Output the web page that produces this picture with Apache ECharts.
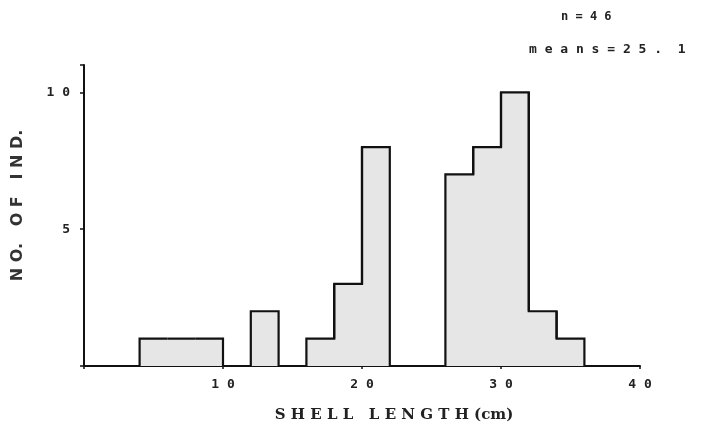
<!DOCTYPE html>
<html>
<head>
<meta charset="utf-8">
<script src="https://cdn.jsdelivr.net/npm/echarts@6/dist/echarts.min.js"></script>
<style type="text/css">
html, body{margin: 0; padding: 0; background: #fff;}
#chart{width: 702px; height: 431px;}
</style>
</head>
<body>
<div id="chart"></div>
<script>
// bins of shell length (cm) and number of individuals
var binStart = [4, 6, 8, 12, 16, 18, 20, 26, 28, 30, 32, 34];
var binEnd   = [6, 8, 10, 14, 18, 20, 22, 28, 30, 32, 34, 36];
var counts   = [1, 1, 1, 2, 1, 3, 8, 7, 8, 10, 2, 1];
var xTicks = [10, 20, 30, 40];
var yTicks = [5, 10];
var noteN = 'n=46';
var noteMean = 'means=25. 1';

var data = binStart.map(function (s, i) { return [s, binEnd[i], counts[i]]; });

// height of the neighbouring bin sharing an edge (0 if none)
function neighbour(edge, key) {
    var arr = key === 'end' ? binEnd : binStart;
    var i = arr.indexOf(edge);
    return i < 0 ? 0 : counts[i];
}

var spaced = function (v) { return String(v).split('').join(' '); };

var myChart = echarts.init(document.getElementById('chart'));
myChart.setOption({
    animation: false,
    grid: {left: 84, right: 62, top: 65, bottom: 65},
    xAxis: {
        type: 'value', min: 0, max: 40, interval: 10,
        splitLine: {show: false},
        axisLine: {lineStyle: {color: '#111', width: 2}},
        axisTick: {length: 3, lineStyle: {color: '#111', width: 1.5}},
        axisLabel: {
            margin: 12, color: '#222', fontSize: 13, fontWeight: 'bold',
            fontFamily: 'DejaVu Sans Mono',
            formatter: function (v) { return xTicks.indexOf(v) >= 0 ? spaced(v) : ''; }
        },
        name: 'S H E L L   L E N G T H (cm)', nameLocation: 'middle', nameGap: 42,
        nameTextStyle: {color: '#222', fontSize: 15, fontFamily: 'DejaVu Serif', fontWeight: 'bold',
                        padding: [0, 0, 0, 64]}
    },
    yAxis: {
        type: 'value', min: 0, max: 11, interval: 5,
        splitLine: {show: false},
        axisLine: {show: true, lineStyle: {color: '#111', width: 2}},
        axisTick: {show: true, length: 4, lineStyle: {color: '#111', width: 1.5}},
        axisLabel: {
            margin: 14, color: '#222', fontSize: 13, fontWeight: 'bold',
            fontFamily: 'DejaVu Sans Mono',
            formatter: function (v) { return yTicks.indexOf(v) >= 0 ? spaced(v) : ''; }
        },
        name: 'N O.   O F   I N D.', nameLocation: 'middle', nameGap: 58,
        nameTextStyle: {color: '#333', fontSize: 16, fontFamily: 'DejaVu Sans', fontWeight: 'bold',
                        padding: [0, 0, 0, 20]}
    },
    graphic: [
        {type: 'text', left: 561, top: 11,
         style: {text: spaced(noteN), fill: '#222', font: 'bold 12px "DejaVu Sans Mono"'}},
        {type: 'text', left: 529, top: 43,
         style: {text: spaced(noteMean).replace('.  ', '. '), fill: '#222', font: 'bold 13px "DejaVu Sans Mono"'}}
    ],
    series: [{
        type: 'custom',
        data: data,
        renderItem: function (params, api) {
            var s = api.value(0), e = api.value(1), h = api.value(2);
            var p0 = api.coord([s, 0]), p1 = api.coord([e, h]);
            var yPrev = api.coord([s, neighbour(s, 'end')])[1];
            var yNext = api.coord([e, neighbour(e, 'start')])[1];
            return {
                type: 'group',
                children: [
                    {type: 'rect', z2: 1,
                     shape: {x: p0[0] - 0.5, y: p1[1], width: p1[0] - p0[0] + 1, height: p0[1] - p1[1]},
                     style: {fill: '#e6e6e6'}},
                    {type: 'polyline', z2: 10,
                     shape: {points: [[p0[0], yPrev], [p0[0], p1[1]], [p1[0], p1[1]], [p1[0], yNext]]},
                     style: {stroke: '#111', lineWidth: 2.2, fill: null}}
                ]
            };
        }
    }]
});
</script>
</body>
</html>
